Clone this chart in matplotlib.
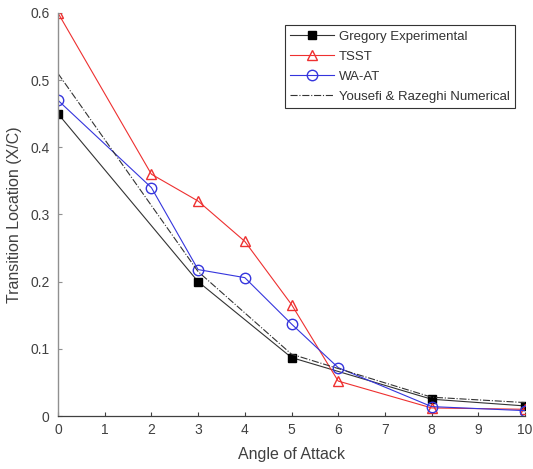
import matplotlib
matplotlib.use("Agg")
import matplotlib.pyplot as plt

# Values
gregory_x = [0, 3, 5, 8, 10]
gregory_y = [0.45, 0.20, 0.087, 0.025, 0.015]

tsst_x = [0, 2, 3, 4, 5, 6, 8, 10]
tsst_y = [0.60, 0.36, 0.32, 0.26, 0.166, 0.052, 0.012, 0.010]

waat_x = [0, 2, 3, 4, 5, 6, 8, 10]
waat_y = [0.47, 0.34, 0.218, 0.206, 0.137, 0.072, 0.014, 0.008]

yousefi_x = [0, 3, 5, 8, 10]
yousefi_y = [0.51, 0.215, 0.092, 0.028, 0.020]

x_ticks = list(range(0, 11))
y_ticks = [0, 0.1, 0.2, 0.3, 0.4, 0.5, 0.6]
y_tick_labels = ["0", "0.1", "0.2", "0.3", "0.4", "0.5", "0.6"]

plt.rcParams["font.family"] = ["Liberation Sans", "DejaVu Sans"]

fig = plt.figure(figsize=(5.33, 4.69), dpi=100)
ax = fig.add_axes([58 / 533, 1 - 416 / 469, (525 - 58) / 533, (416 - 13) / 469])

ax.plot(gregory_x, gregory_y, color="#333333", lw=0.8, marker="s", ms=6,
        mfc="black", mec="black", label="Gregory Experimental")
ax.plot(tsst_x, tsst_y, color="#ee3030", lw=0.8, marker="^", ms=7.5,
        mfc="none", mec="#ee3030", label="TSST")
ax.plot(waat_x, waat_y, color="#3535dd", lw=0.8, marker="o", ms=7.5,
        mfc="none", mec="#3535dd", label="WA-AT")
ax.plot(yousefi_x, yousefi_y, color="#333333", lw=0.8, ls="-.",
        label="Yousefi & Razeghi Numerical")

ax.set_xlim(0, 10)
ax.set_ylim(0, 0.6)
ax.set_xticks(x_ticks)
ax.set_yticks(y_ticks)
ax.set_yticklabels(y_tick_labels)
ax.tick_params(direction="in", length=3, labelsize=10, labelcolor="#404040", pad=5)
ax.tick_params(axis="y", colors="#909090", labelcolor="#404040", pad=6)
ax.tick_params(axis="x", colors="#404040")
for side in ["top", "right"]:
    ax.spines[side].set_visible(False)
ax.spines["left"].set_color("#909090")
ax.spines["bottom"].set_color("#404040")
ax.spines["left"].set_linewidth(1.0)
ax.spines["bottom"].set_linewidth(0.9)

ax.set_xlabel("Angle of Attack", fontsize=11.5, color="#404040", labelpad=7)
ax.set_ylabel("Transition Location (X/C)", fontsize=11.5, color="#404040", labelpad=6)

leg = ax.legend(loc="upper right", bbox_to_anchor=(0.979, 0.97), borderaxespad=0,
                fontsize=9.5, fancybox=False, framealpha=1, edgecolor="#333333",
                handlelength=3.3, borderpad=0.4, labelspacing=0.6,
                handletextpad=0.4)
leg.get_frame().set_linewidth(0.8)
for t in leg.get_texts():
    t.set_color("#333333")

fig.savefig("out.png", dpi=100)
